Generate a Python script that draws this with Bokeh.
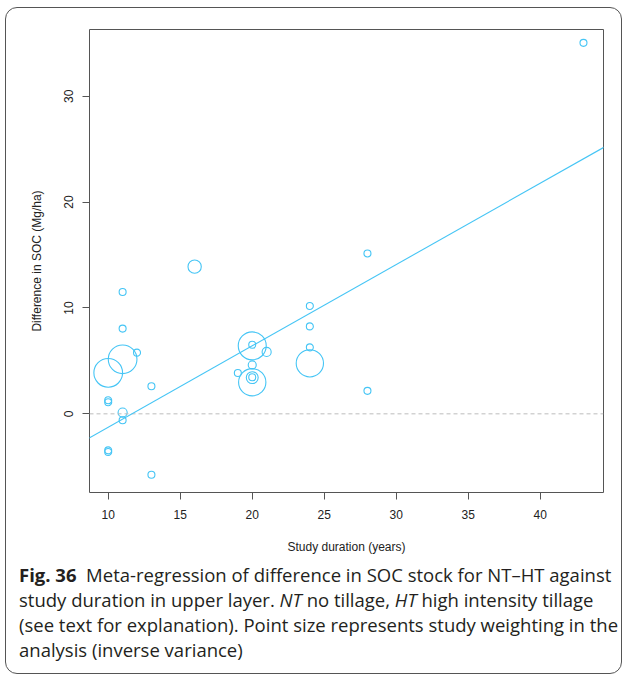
from bokeh.plotting import figure
from bokeh.models import FixedTicker, Span, Slope, Div, ColumnDataSource
from bokeh.layouts import column
from bokeh.embed import file_html
from bokeh.resources import INLINE

# Study duration (years)
duration = [10, 10, 10, 10, 10, 11, 11, 11, 11, 11, 12, 13, 13, 16, 19,
            20, 20, 20, 20, 20, 20, 21, 24, 24, 24, 24, 28, 28, 43]
# Difference in SOC (Mg/ha)
soc_diff = [-3.45, -3.6, 1.28, 1.1, 3.87, 11.5, 8.05, 5.15, 0.12, -0.6, 5.78, 2.6, -5.75, 13.9, 3.85,
            6.52, 6.42, 4.62, 3.45, 3.42, 2.98, 5.85, 10.19, 8.26, 6.28, 4.77, 15.15, 2.17, 35.04]
# relative study weighting (inverse variance), shown as point size
weight = [1.0, 1.0, 1.0, 1.0, 4.1, 1.0, 1.0, 4.1, 1.3, 1.0, 1.0, 1.0, 1.0, 1.9, 1.0,
          1.0, 4.0, 1.15, 1.0, 1.7, 3.9, 1.3, 1.0, 1.0, 1.0, 3.9, 1.0, 1.0, 1.0]
# fitted meta-regression line
intercept = -8.94
slope = 0.768

x_ticks = [10, 15, 20, 25, 30, 35, 40]
y_ticks = [0, 10, 20, 30]

BLUE = "#45C5F5"
BASE_SIZE = 7

src = ColumnDataSource(dict(x=duration, y=soc_diff,
                            s=[w * BASE_SIZE for w in weight]))

p = figure(width=613, height=549, x_range=(8.70, 44.39), y_range=(-7.43, 36.30),
           output_backend="svg", toolbar_location=None,
           min_border_left=83, min_border_right=16, min_border_top=21, min_border_bottom=65,
           background_fill_color="white", border_fill_color=None)
p.grid.visible = False
p.outline_line_color = "#555555"
p.outline_line_width = 1

p.add_layout(Span(location=0, dimension="width", line_color="#bdbdbd",
                  line_dash="4 3", line_width=1))
p.add_layout(Slope(gradient=slope, y_intercept=intercept, line_color=BLUE, line_width=1.1))
p.scatter("x", "y", size="s", source=src, marker="circle", fill_color=None,
          line_color=BLUE, line_width=1.1)

for ax in (p.xaxis[0], p.yaxis[0]):
    ax.axis_line_color = None
    ax.major_tick_line_color = "#555555"
    ax.major_tick_out = 7
    ax.major_tick_in = 0
    ax.minor_tick_line_color = None
    ax.major_label_text_font = "Liberation Sans"
    ax.major_label_text_font_size = "12px"
    ax.major_label_text_color = "#222222"
    ax.axis_label_text_font = "Liberation Sans"
    ax.axis_label_text_font_size = "12px"
    ax.axis_label_text_font_style = "normal"
    ax.axis_label_text_color = "#222222"

p.xaxis.ticker = FixedTicker(ticks=x_ticks)
p.yaxis.ticker = FixedTicker(ticks=y_ticks)
p.yaxis.major_label_orientation = "vertical"
p.xaxis.axis_label = "Study duration (years)"
p.yaxis.axis_label = "Difference in SOC (Mg/ha)"
p.xaxis.major_label_standoff = 10
p.yaxis.major_label_standoff = 9
p.xaxis.axis_label_standoff = 18
p.yaxis.axis_label_standoff = 18

caption = ('<b>Fig. 36</b>&nbsp; Meta-regression of difference in SOC stock for NT–HT against<br>'
           'study duration in upper layer. <i>NT</i> no tillage, <i>HT</i> high intensity tillage<br>'
           '(see text for explanation). Point size represents study weighting in the<br>'
           'analysis (inverse variance)')
div = Div(text=caption, width=605, height=106,
          styles={"font-family": "Open Sans", "font-size": "18.5px", "line-height": "25px",
                  "padding-left": "8px", "color": "#231f20", "white-space": "nowrap"})

layout = column(p, div, styles={"border": "1px solid #555555", "border-radius": "12px",
                                "overflow": "hidden", "background-color": "white",
                                "margin-left": "5px", "margin-top": "7px"})

open("out.html", "w").write(file_html(layout, INLINE))
